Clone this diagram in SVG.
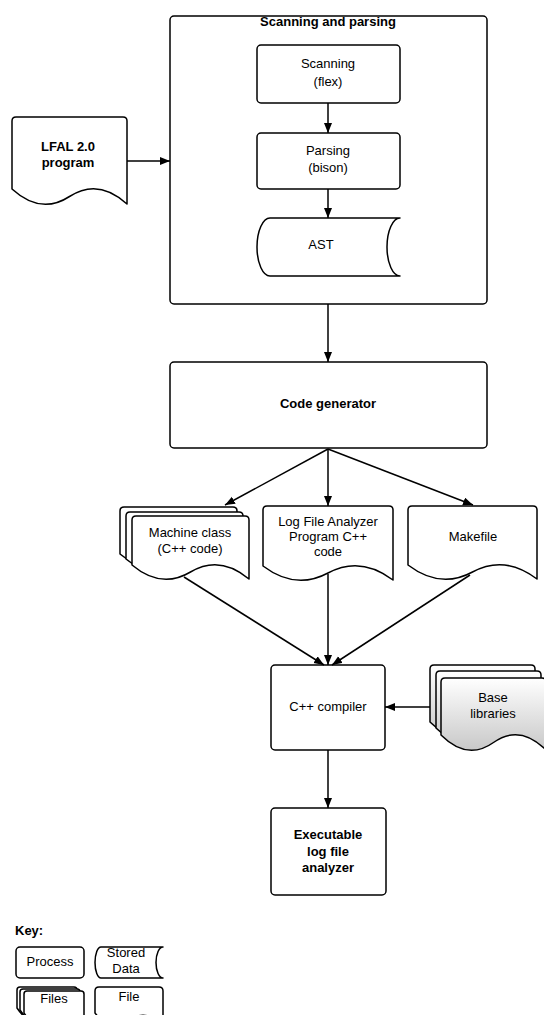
<svg xmlns="http://www.w3.org/2000/svg" width="544" height="1015" viewBox="0 0 544 1015">
<defs>
<style>
.s{fill:#fff;stroke:#000;stroke-width:1.5;stroke-linejoin:round}
.g{fill:url(#gr);stroke:#000;stroke-width:1.5;stroke-linejoin:round}
.c{fill:none;stroke:#000;stroke-width:1.5}
text{font-family:"Liberation Sans",Arial,sans-serif;font-size:13px;fill:#000;text-anchor:middle}
.b{font-weight:bold}
</style>
<linearGradient id="gr" x1="0" y1="0" x2="0" y2="1">
<stop offset="0" stop-color="#ffffff"/>
<stop offset="1" stop-color="#c8c8c8"/>
</linearGradient>
<marker id="a" markerUnits="userSpaceOnUse" markerWidth="12" markerHeight="10" refX="10" refY="4" orient="auto">
<path d="M0,0 L10,4 L0,8 Z" fill="#000"/>
</marker>
</defs>

<g id="container">
<rect class="s" x="170" y="16" width="317" height="288" rx="4"/>
<text class="b" x="328" y="26">Scanning and parsing</text>
</g>

<g id="scanning">
<rect class="s" x="257" y="45" width="143" height="58" rx="4"/>
<text x="328" y="68">Scanning</text>
<text x="328" y="86">(flex)</text>
</g>

<g id="parsing">
<rect class="s" x="257" y="133" width="143" height="56" rx="4"/>
<text x="328" y="155">Parsing</text>
<text x="328" y="172">(bison)</text>
</g>

<g id="ast">
<path class="s" d="M270,218 H400 A13,29 0 0 0 400,276 H270 A13,29 0 0 1 270,218 Z"/>
<text x="321" y="249">AST</text>
</g>

<g id="lfal-program">
<path class="s" d="M16,117 Q12,117 12,121 V189 Q40.75,215.25 69.5,196.5 T127,204 V121 Q127,117 123,117 Z"/>
<text class="b" x="68" y="151">LFAL 2.0</text>
<text class="b" x="68" y="167">program</text>
</g>

<g id="code-generator">
<rect class="s" x="170" y="362" width="317" height="86" rx="4"/>
<text class="b" x="328" y="408">Code generator</text>
</g>

<g id="machine-class">
<path class="s" d="M124,507 Q120,507 120,511 V554 Q149.25,578.5 178.5,561 T237,568 V511 Q237,507 233,507 Z"/>
<path class="s" d="M130,512 Q126,512 126,516 V559 Q155.25,583.5 184.5,566 T243,573 V516 Q243,512 239,512 Z"/>
<path class="s" d="M136,516 Q132,516 132,520 V565 Q161.25,589.5 190.5,572 T249,579 V520 Q249,516 245,516 Z"/>
<text x="190" y="537">Machine class</text>
<text x="190" y="553">(C++ code)</text>
</g>

<g id="lfa-code">
<path class="s" d="M267,506 Q263,506 263,510 V566 Q295.5,590.5 328,573 T393,580 V510 Q393,506 389,506 Z"/>
<text x="328" y="526">Log File Analyzer</text>
<text x="328" y="541">Program C++</text>
<text x="328" y="556">code</text>
</g>

<g id="makefile">
<path class="s" d="M412,506 Q408,506 408,510 V565 Q440.25,589.5 472.5,572 T537,579 V510 Q537,506 533,506 Z"/>
<text x="473" y="541">Makefile</text>
</g>

<g id="compiler">
<rect class="s" x="271" y="665" width="114" height="85" rx="4"/>
<text x="328" y="711">C++ compiler</text>
</g>

<g id="base-libraries">
<path class="g" d="M434,665 Q430,665 430,669 V722 Q456.25,748.25 482.5,729.5 T535,737 V669 Q535,665 531,665 Z"/>
<path class="g" d="M440,671 Q436,671 436,675 V728 Q462.25,754.25 488.5,735.5 T541,743 V675 Q541,671 537,671 Z"/>
<path class="g" d="M445,678 Q441,678 441,682 V735 Q467.25,761.25 493.5,742.5 T546,750 V682 Q546,678 542,678 Z"/>
<text x="493" y="702">Base</text>
<text x="493" y="718">libraries</text>
</g>

<g id="executable">
<rect class="s" x="271" y="808" width="115" height="87" rx="4"/>
<text class="b" x="328" y="839">Executable</text>
<text class="b" x="328" y="856">log file</text>
<text class="b" x="328" y="872">analyzer</text>
</g>

<g id="key">
<text class="b" x="15" y="935" style="text-anchor:start">Key:</text>
<rect class="s" x="16" y="947" width="68" height="31" rx="4"/>
<text x="50" y="966">Process</text>
<path class="s" d="M101,947 H163 A7,15.5 0 0 0 163,978 H101 A6,15.5 0 0 1 101,947 Z"/>
<text x="126" y="957">Stored</text>
<text x="126" y="973">Data</text>
<path class="s" d="M20,987 Q17,987 17,990 V1008 Q32,1030 47,1018 T77,1022 V990 Q77,987 74,987 Z"/>
<path class="s" d="M23,989 Q20,989 20,992 V1010 Q35,1032 50,1020 T80,1024 V992 Q80,989 77,989 Z"/>
<path class="s" d="M27,991 Q24,991 24,994 V1013 Q39,1035 54,1023 T84,1027 V994 Q84,991 81,991 Z"/>
<text x="54" y="1003">Files</text>
<path class="s" d="M99,987 Q95,987 95,991 V1013 Q112,1035 129,1021 T163,1027 V991 Q163,987 159,987 Z"/>
<text x="129" y="1001">File</text>
</g>

<g id="connectors">
<line class="c" x1="127" y1="161" x2="170" y2="161" marker-end="url(#a)"/>
<line class="c" x1="328" y1="103" x2="328" y2="133" marker-end="url(#a)"/>
<line class="c" x1="328" y1="189" x2="328" y2="218" marker-end="url(#a)"/>
<line class="c" x1="328" y1="304" x2="328" y2="362" marker-end="url(#a)"/>
<line class="c" x1="328" y1="449" x2="225" y2="505" marker-end="url(#a)"/>
<line class="c" x1="328" y1="449" x2="328" y2="506" marker-end="url(#a)"/>
<line class="c" x1="328" y1="449" x2="473" y2="505" marker-end="url(#a)"/>
<line class="c" x1="184" y1="577" x2="324" y2="665" marker-end="url(#a)"/>
<line class="c" x1="328" y1="574" x2="328" y2="665" marker-end="url(#a)"/>
<line class="c" x1="470" y1="575" x2="332" y2="665" marker-end="url(#a)"/>
<line class="c" x1="430" y1="707" x2="385" y2="707" marker-end="url(#a)"/>
<line class="c" x1="328" y1="750" x2="328" y2="808" marker-end="url(#a)"/>
</g>
</svg>
